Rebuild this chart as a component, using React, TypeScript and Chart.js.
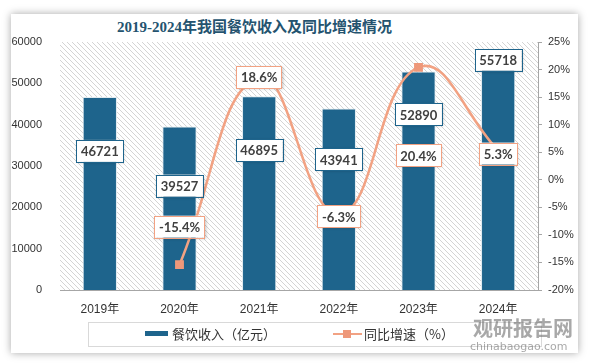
import React, { useEffect, useRef } from "react";
import { Chart, registerables } from "chart.js";
Chart.register(...registerables);

const years = ["2019年", "2020年", "2021年", "2022年", "2023年", "2024年"];
const revenue = [46721, 39527, 46895, 43941, 52890, 55718];
const growth: (number | null)[] = [null, -15.4, 18.6, -6.3, 20.4, 5.3];
const revenueName = "餐饮收入（亿元）";
const growthName = "同比增速（%）";
const titleText = "2019-2024年我国餐饮收入及同比增速情况";

// label placement styles (pixel offsets from the mark)
const barLabelOffset = [54, 59, 54, 51, 43, 0];
const lineLabelOffset = [0, -38, 0, 2, 88, 3];

const BAR = "#1E648C";
const LINE = "#F2A283";
const LABEL_FONT = "bold 13px Lato, 'Liberation Sans', sans-serif";

function makeHatch(ctx: CanvasRenderingContext2D) {
  const c = document.createElement("canvas");
  c.width = 5;
  c.height = 5;
  const g = c.getContext("2d")!;
  g.fillStyle = "#fff";
  g.fillRect(0, 0, 5, 5);
  g.fillStyle = "#d4d4d4";
  for (let i = 0; i < 5; i++) g.fillRect(i, i, 1, 1);
  return ctx.createPattern(c, "repeat")!;
}

function drawBox(ctx: CanvasRenderingContext2D, text: string, x: number, y: number, border: string) {
  ctx.save();
  ctx.font = LABEL_FONT;
  const w = ctx.measureText(text).width + 9;
  const h = 22;
  ctx.shadowColor = "rgba(0,0,0,0.25)";
  ctx.shadowBlur = 3;
  ctx.shadowOffsetX = 1;
  ctx.shadowOffsetY = 1;
  ctx.fillStyle = "#fff";
  ctx.fillRect(x - w / 2, y - h / 2, w, h);
  ctx.shadowColor = "transparent";
  ctx.strokeStyle = border;
  ctx.lineWidth = 1;
  ctx.strokeRect(Math.round(x - w / 2) + 0.5, Math.round(y - h / 2) + 0.5, Math.round(w), h);
  ctx.fillStyle = "#404040";
  ctx.textAlign = "center";
  ctx.textBaseline = "middle";
  ctx.fillText(text, x, y + 1);
  ctx.restore();
}

const hatchPlugin = {
  id: "hatch",
  beforeDatasetsDraw(chart: any) {
    const { ctx, chartArea: a } = chart;
    ctx.save();
    ctx.fillStyle = makeHatch(ctx);
    ctx.fillRect(a.left, a.top, a.right - a.left, a.bottom - a.top);
    ctx.restore();
  },
};

const labelPlugin = {
  id: "boxLabels",
  afterDatasetsDraw(chart: any) {
    const ctx = chart.ctx;
    const barMeta = chart.getDatasetMeta(1);
    barMeta.data.forEach((el: any, i: number) => {
      drawBox(ctx, String(revenue[i]), el.x, el.y + barLabelOffset[i], BAR);
    });
    const lineMeta = chart.getDatasetMeta(0);
    lineMeta.data.forEach((el: any, i: number) => {
      const v = growth[i];
      if (v === null) return;
      drawBox(ctx, v.toFixed(1) + "%", el.x, el.y + lineLabelOffset[i], LINE);
    });
  },
};

export default function App() {
  const ref = useRef<HTMLCanvasElement>(null);
  useEffect(() => {
    const tickFont = { size: 11, family: "'Liberation Sans', 'Noto Sans CJK SC', sans-serif" };
    const chart = new Chart(ref.current!, {
      type: "bar",
      data: {
        labels: years,
        datasets: [
          {
            type: "line",
            label: growthName,
            data: growth,
            yAxisID: "y1",
            borderColor: LINE,
            borderWidth: 2.5,
            tension: 0.45,
            pointStyle: "rect",
            pointRadius: 4.5,
            pointBackgroundColor: "#EE987A",
            pointBorderColor: "#EE987A",
            order: 0,
            clip: false,
          } as any,
          {
            type: "bar",
            label: revenueName,
            data: revenue,
            yAxisID: "y",
            backgroundColor: BAR,
            borderColor: "#dfeaf0",
            borderWidth: 1,
            categoryPercentage: 1,
            barPercentage: 0.43,
            order: 1,
          } as any,
        ],
      },
      options: {
        responsive: false,
        animation: false,
        layout: { padding: { top: 42, left: 0, right: 0, bottom: 0 } },
        plugins: { legend: { display: false }, tooltip: { enabled: false }, title: { display: false } },
        scales: {
          x: {
            grid: { display: false, drawTicks: false },
            border: { display: true, color: "#a6a6a6", width: 1 },
            ticks: { color: "#333", padding: 12, font: { size: 12, family: "'Liberation Sans', 'Noto Sans CJK SC', sans-serif" } },
            afterFit: (s: any) => { s.height = 74; },
          },
          y: {
            position: "left",
            min: 0,
            max: 60000,
            grid: { display: false, drawTicks: false },
            border: { display: false },
            ticks: { stepSize: 10000, color: "#333", padding: 18, font: tickFont, callback: (v: any) => String(v) },
            afterFit: (s: any) => { s.width = 60; },
          },
          y1: {
            position: "right",
            min: -20,
            max: 25,
            grid: { drawOnChartArea: false, drawTicks: true, tickLength: 4, color: "#a6a6a6" },
            border: { display: true, color: "#a6a6a6", width: 1 },
            ticks: { stepSize: 5, color: "#333", padding: 6, font: tickFont, callback: (v: any) => v + "%" },
            afterFit: (s: any) => { s.width = 54; },
          },
        },
      },
      plugins: [hatchPlugin, labelPlugin],
    });
    return () => chart.destroy();
  }, []);

  const cjk = "'Noto Sans CJK SC', sans-serif";
  return (
    <div style={{ position: "fixed", left: 0, top: 0, width: 592, height: 364, background: "#fff", overflow: "hidden" }}>
      <div style={{ position: "absolute", left: 11, top: 14, width: 567, height: 339, background: "#fff", boxShadow: "0 0 8px rgba(0,0,0,0.35)" }} />
      <div style={{ position: "absolute", left: 117, top: 17, fontFamily: "'Liberation Serif', 'Noto Sans CJK SC', serif", fontWeight: "bold", fontSize: 15, color: "#24536F", whiteSpace: "nowrap", lineHeight: "20px" }}>
        {titleText}
      </div>
      <canvas ref={ref} width={592} height={364} style={{ position: "absolute", left: 0, top: 0 }} />
      <div style={{ position: "absolute", left: 88, top: 322, width: 452, height: 23, border: "1px solid #d9d9d9" }} />
      <div style={{ position: "absolute", left: 145, top: 331, width: 23, height: 5, background: BAR }} />
      <div style={{ position: "absolute", left: 172, top: 324, fontFamily: cjk, fontSize: 13, color: "#333", lineHeight: "20px", whiteSpace: "nowrap" }}>{revenueName}</div>
      <div style={{ position: "absolute", left: 333, top: 333, width: 29, height: 2, background: LINE }} />
      <div style={{ position: "absolute", left: 343, top: 330, width: 8, height: 8, background: "#EE987A" }} />
      <div style={{ position: "absolute", left: 364, top: 324, fontFamily: cjk, fontSize: 13, color: "#333", lineHeight: "20px", whiteSpace: "nowrap" }}>{growthName}</div>
      <div style={{ position: "absolute", left: 473, top: 316, fontFamily: cjk, fontWeight: "bold", fontSize: 20, color: "rgba(110,110,110,0.6)", lineHeight: "24px", whiteSpace: "nowrap" }}>观研报告网</div>
      <div style={{ position: "absolute", left: 470, top: 340, fontFamily: "'DejaVu Sans', sans-serif", fontSize: 11, color: "rgba(110,110,110,0.6)", lineHeight: "14px", whiteSpace: "nowrap" }}>chinabaogao.com</div>
    </div>
  );
}
